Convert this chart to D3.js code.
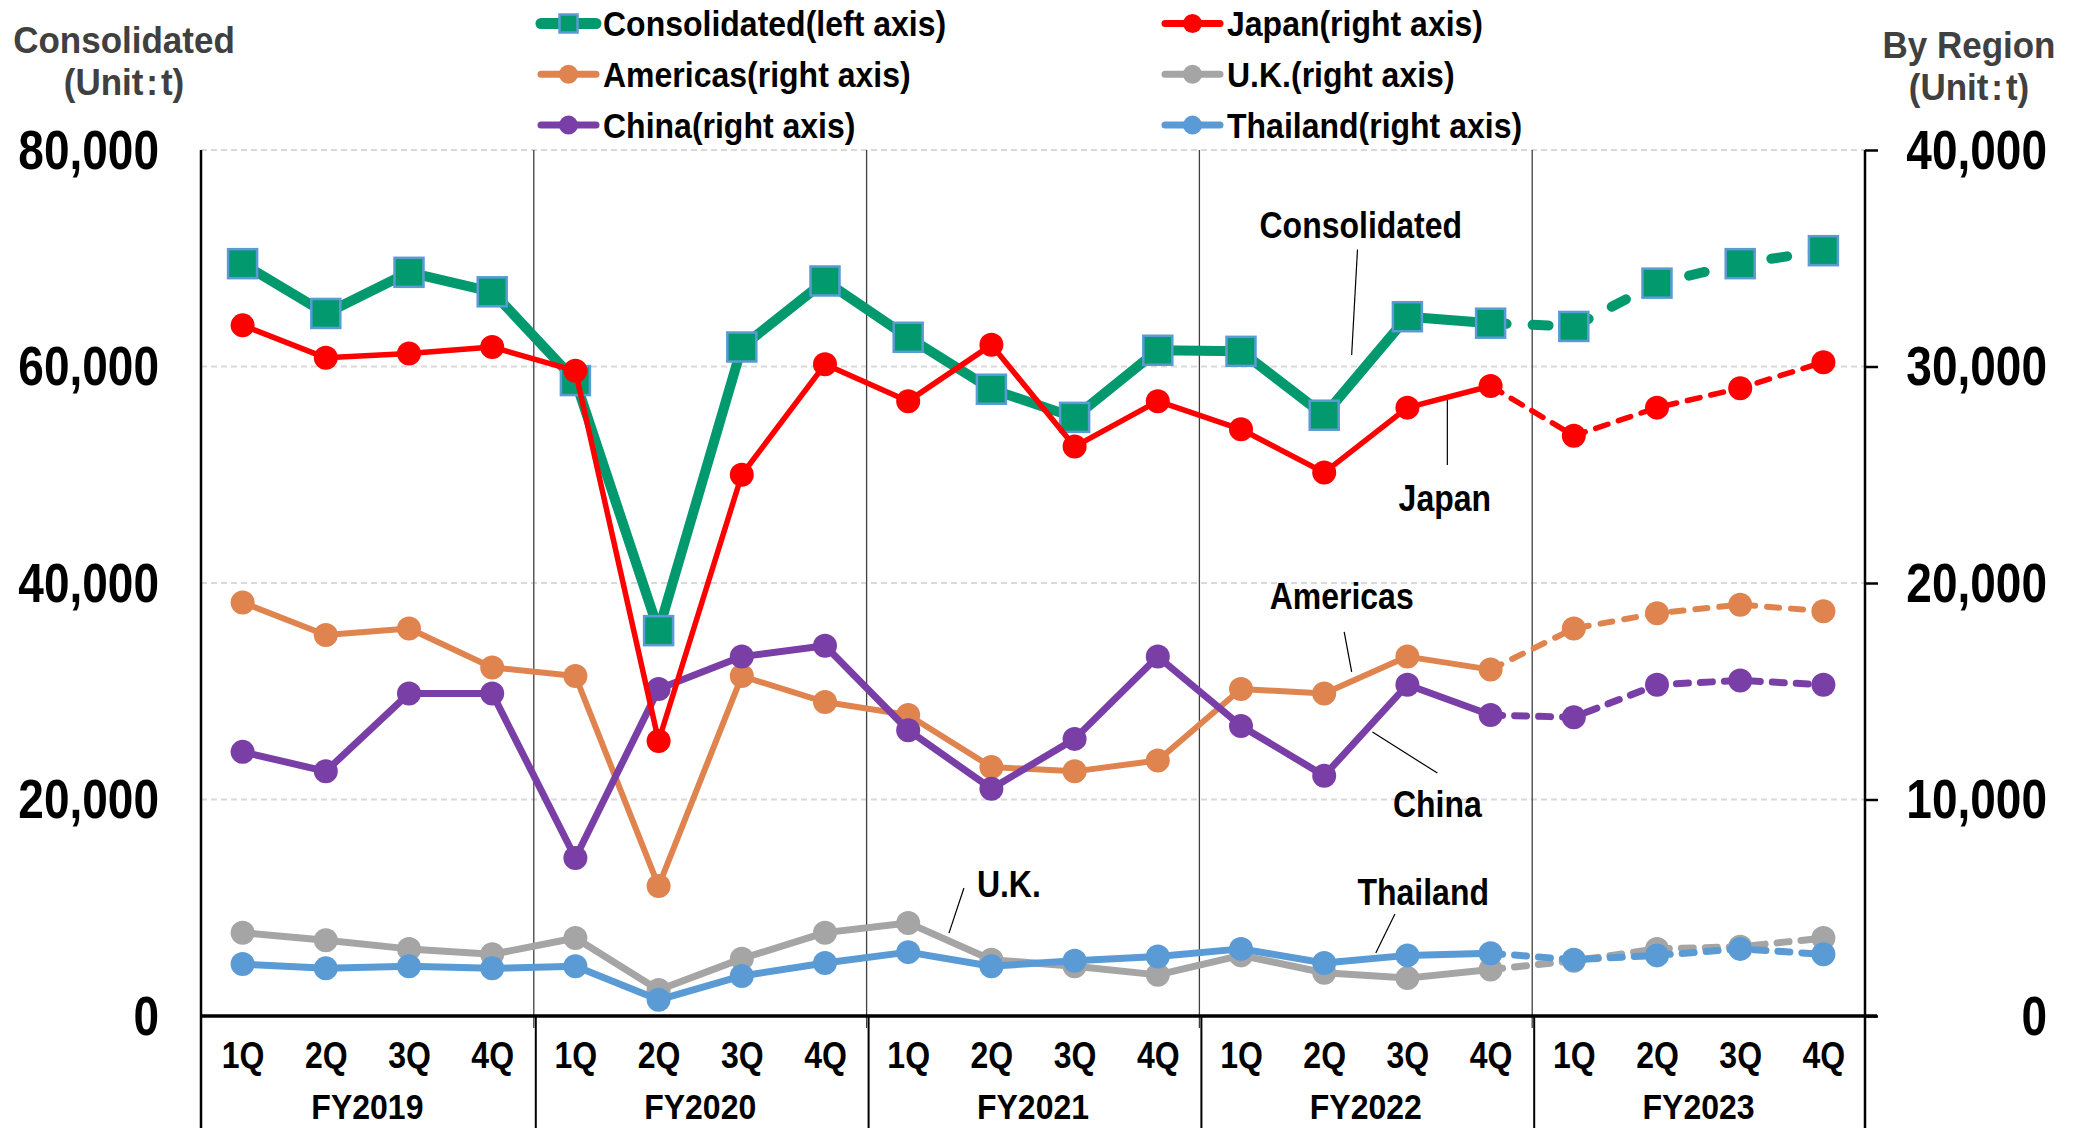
<!DOCTYPE html>
<html><head><meta charset="utf-8">
<script src="https://cdn.jsdelivr.net/npm/d3@7"></script>
<style>
body{margin:0;background:#fff}
svg{display:block}
text{font-family:"Liberation Sans",Arial,"Noto Sans CJK JP",sans-serif;font-weight:bold}
</style>
</head><body>
<svg id="chart" width="2078" height="1128"></svg>
<script>
// ---------------- data ----------------
const quarterLabels = ["1Q","2Q","3Q","4Q"];
const fiscalYears = ["FY2019","FY2020","FY2021","FY2022","FY2023"];
const categories = fiscalYears.flatMap(fy => quarterLabels.map(q => fy + " " + q));
const forecastStart = 15; // dashed from FY2022 4Q onwards

const consolidated = [69500,64900,68700,66900,58700,35600,61800,67900,62700,57900,55300,61500,61400,55500,64600,64000,63700,67700,69500,70700];
const japan        = [31900,30400,30600,30900,29800,12700,25000,30100,28400,31000,26300,28400,27100,25100,28100,29100,26800,28100,29000,30200];
const americas     = [19100,17600,17900,16100,15700,6000,15700,14500,13900,11500,11300,11800,15100,14900,16600,16000,17900,18600,19000,18700];
const china        = [12200,11300,14900,14900,7300,15100,16600,17100,13200,10500,12800,16600,13400,11100,15300,13900,13800,15300,15500,15300];
const uk           = [3850,3500,3100,2850,3600,1200,2650,3850,4300,2600,2300,1900,2800,2000,1750,2150,2550,3100,3200,3600];
const thailand     = [2400,2200,2300,2200,2300,750,1850,2450,2950,2300,2550,2750,3100,2450,2800,2900,2600,2800,3100,2850];

const leftTicks  = [0,20000,40000,60000,80000];
const rightTicks = [0,10000,20000,30000,40000];

const legendNames = ["Consolidated(left axis)","Japan(right axis)","Americas(right axis)","U.K.(right axis)","China(right axis)","Thailand(right axis)"];
const annotationLabels = ["Consolidated","Japan","Americas","China","Thailand","U.K."];
const unitLabel = "(Unit\u200A:\u200At)";

// ---------------- layout ----------------
const svg = d3.select("#chart");
const L = 201, R = 1865, T = 150, B = 1016, BOTTOM = 1128;
const x = d3.scalePoint().domain(categories).range([L, R]).padding(0.5);
const step = x.step();
const yL = d3.scaleLinear().domain([0, 80000]).range([B, T]);
const yR = d3.scaleLinear().domain([0, 40000]).range([B, T]);

function txt(g, s, X, Y, size, anchor, fill, sy) {
  return g.append("text")
    .attr("transform", `translate(${X},${Y}) scale(1,${sy})`)
    .attr("text-anchor", anchor).attr("font-size", size).attr("fill", fill).text(s);
}

// gridlines
svg.append("g").selectAll("line").data(leftTicks.filter(d => d > 0)).join("line")
  .attr("x1", L).attr("x2", R).attr("y1", d => yL(d)).attr("y2", d => yL(d))
  .attr("stroke", "#d9d9d9").attr("stroke-width", 2).attr("stroke-dasharray", "6,4");

// fiscal-year separators
const sepX = d3.range(fiscalYears.length + 1).map(k => L + k * 4 * step);
svg.append("g").selectAll("line").data(sepX.slice(1, -1)).join("line")
  .attr("x1", d => d).attr("x2", d => d).attr("y1", T).attr("y2", B + 12)
  .attr("stroke", "#404040").attr("stroke-width", 1.3);
svg.append("g").selectAll("line").data(sepX.slice(1, -1)).join("line")
  .attr("x1", d => d + 2).attr("x2", d => d + 2).attr("y1", B).attr("y2", BOTTOM)
  .attr("stroke", "#000").attr("stroke-width", 2);

// axes lines
svg.append("line").attr("x1", L).attr("x2", L).attr("y1", T).attr("y2", BOTTOM).attr("stroke", "#000").attr("stroke-width", 2.5);
svg.append("line").attr("x1", R).attr("x2", R).attr("y1", T).attr("y2", BOTTOM).attr("stroke", "#000").attr("stroke-width", 2.5);
svg.append("line").attr("x1", L).attr("x2", R + 12).attr("y1", B).attr("y2", B).attr("stroke", "#000").attr("stroke-width", 3.5);

// left axis labels
const gL = svg.append("g").attr("transform", `translate(${L},0)`)
  .call(d3.axisLeft(yL).tickValues(leftTicks).tickFormat(d3.format(",")).tickSize(0).tickPadding(42));
gL.select(".domain").remove();
gL.selectAll("text").attr("font-size", 46).attr("fill", "#000").attr("font-family", null)
  .attr("dy", null).attr("y", 15).attr("transform", "scale(1,1.2)");

// right axis
const gR = svg.append("g").attr("transform", `translate(${R},0)`)
  .call(d3.axisRight(yR).tickValues(rightTicks).tickFormat(d3.format(",")).tickSize(13));
gR.select(".domain").remove();
gR.selectAll(".tick line").attr("stroke", "#000").attr("stroke-width", 2.5);
gR.selectAll("text").attr("font-size", 46).attr("fill", "#000").attr("font-family", null)
  .attr("text-anchor", "end").attr("x", 182)
  .attr("dy", null).attr("y", 15).attr("transform", "scale(1,1.2)");

// bottom axis (quarters)
const gB = svg.append("g").attr("transform", `translate(0,${B})`)
  .call(d3.axisBottom(x).tickFormat(d => d.split(" ")[1]).tickSize(0));
gB.select(".domain").remove();
gB.selectAll("text").attr("font-size", 32).attr("fill", "#000").attr("font-family", null)
  .attr("dy", null).attr("y", (1068 - B) / 1.15).attr("transform", "scale(1,1.15)");

// fiscal year labels
fiscalYears.forEach((fy, k) => txt(svg, fy, (sepX[k] + sepX[k + 1]) / 2, 1119, 32, "middle", "#000", 1.12));

// axis titles
txt(svg, "Consolidated", 124, 53, 35, "middle", "#404040", 1.08);
txt(svg, unitLabel, 124, 95, 35, "middle", "#404040", 1.08);
txt(svg, "By Region", 1969, 58, 35, "middle", "#404040", 1.08);
txt(svg, unitLabel, 1969, 100, 35, "middle", "#404040", 1.08);

// ---------------- series ----------------
const series = [
  {name: legendNames[0], values: consolidated, scale: yL, color: "#03996F", width: 10, marker: "square", dash: "16,26"},
  {name: legendNames[2], values: americas, scale: yR, color: "#E0844F", width: 6, marker: "circle", dash: "12,12"},
  {name: legendNames[4], values: china, scale: yR, color: "#7A3FA6", width: 7, marker: "circle", dash: "12,12"},
  {name: legendNames[3], values: uk, scale: yR, color: "#A5A5A5", width: 7, marker: "circle", dash: "12,12"},
  {name: legendNames[5], values: thailand, scale: yR, color: "#5B9BD5", width: 7, marker: "circle", dash: "12,12"},
  {name: legendNames[1], values: japan, scale: yR, color: "#FF0000", width: 5.5, marker: "circle", dash: "13,11"},
];

series.forEach(s => {
  const g = svg.append("g");
  const line = d3.line().x(i => x(categories[i])).y(i => s.scale(s.values[i]));
  g.append("path").attr("d", line(d3.range(0, forecastStart + 1)))
    .attr("fill", "none").attr("stroke", s.color).attr("stroke-width", s.width).attr("stroke-linejoin", "round");
  g.append("path").attr("d", line(d3.range(forecastStart, categories.length)))
    .attr("fill", "none").attr("stroke", s.color).attr("stroke-width", s.width)
    .attr("stroke-dasharray", s.dash).attr("stroke-linecap", "round");
  if (s.marker === "square") {
    g.selectAll("rect").data(s.values).join("rect")
      .attr("x", (d, i) => x(categories[i]) - 14.5).attr("y", d => s.scale(d) - 14.5)
      .attr("width", 29).attr("height", 29)
      .attr("fill", s.color).attr("stroke", "#5B9BD5").attr("stroke-width", 2.5);
  } else {
    g.selectAll("circle").data(s.values).join("circle")
      .attr("cx", (d, i) => x(categories[i])).attr("cy", d => s.scale(d)).attr("r", 12)
      .attr("fill", s.color);
  }
});

// ---------------- annotations (positions in category-index / right-axis units) ----------------
const xi = f => L + (f + 0.5) * step;
const annotations = [
  {label: annotationLabels[0], tx: 13.44, tv: 36540, l: [[13.40, 35400], [13.33, 30530]]},
  {label: annotationLabels[1], tx: 14.45, tv: 23930, l: [[14.48, 28450], [14.48, 25450]]},
  {label: annotationLabels[2], tx: 13.21, tv: 19400, l: [[13.24, 17740], [13.33, 15890]]},
  {label: annotationLabels[3], tx: 14.36, tv: 9790, l: [[13.58, 13120], [14.36, 11220]]},
  {label: annotationLabels[4], tx: 14.19, tv: 5730, l: [[13.85, 4710], [13.62, 2910]]},
  {label: annotationLabels[5], tx: 9.21, tv: 6100, l: [[8.67, 5910], [8.49, 3830]]},
];
const ga = svg.append("g");
annotations.forEach(a => {
  ga.append("line").attr("x1", xi(a.l[0][0])).attr("y1", yR(a.l[0][1]))
    .attr("x2", xi(a.l[1][0])).attr("y2", yR(a.l[1][1])).attr("stroke", "#000").attr("stroke-width", 1.2);
  txt(ga, a.label, xi(a.tx), yR(a.tv) + 13, 32, "middle", "#000", 1.15);
});

// ---------------- legend ----------------
const legendOrder = [series[0], series[5], series[1], series[3], series[2], series[4]];
const lg = svg.append("g");
legendOrder.forEach((s, k) => {
  const col = k % 2, row = Math.floor(k / 2);
  const x0 = col === 0 ? 537 : 1161;
  const cy = 23.5 + row * 50.8;
  lg.append("line").attr("x1", x0 + 4).attr("x2", x0 + 59).attr("y1", cy).attr("y2", cy)
    .attr("stroke", s.color).attr("stroke-width", s.marker === "square" ? 11 : 7).attr("stroke-linecap", "round");
  if (s.marker === "square") {
    lg.append("rect").attr("x", x0 + 31.5 - 9).attr("y", cy - 9).attr("width", 18).attr("height", 18)
      .attr("fill", s.color).attr("stroke", "#5B9BD5").attr("stroke-width", 2.5);
  } else {
    lg.append("circle").attr("cx", x0 + 31.5).attr("cy", cy).attr("r", 9.5).attr("fill", s.color);
  }
  txt(lg, s.name, x0 + 66, cy + 12.5, 32, "start", "#000", 1.12);
});
</script>
</body></html>
